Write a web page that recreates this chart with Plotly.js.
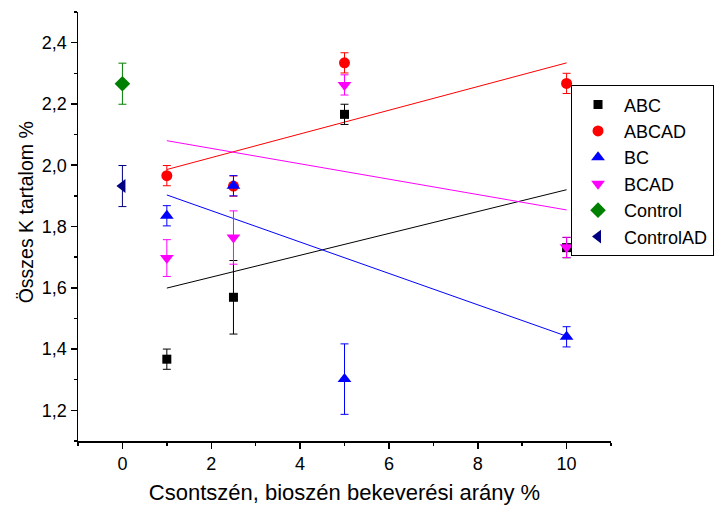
<!DOCTYPE html>
<html>
<head>
<meta charset="utf-8">
<script src="https://cdn.plot.ly/plotly-3.0.1.min.js"></script>
<style>html,body{margin:0;padding:0;background:#fff;}#chart{width:719px;height:506px;}</style>
</head>
<body>
<div id="chart"></div>
<script>
// Data
const seriesNames = ["ABC", "ABCAD", "BC", "BCAD", "Control", "ControlAD"];
const mixX = [1, 2.5, 5, 10];
const controlX = [0];

const abcY = [1.367, 1.569, 2.166, 1.731];
const abcErr = [0.033, 0.12, 0.033, 0.033];
const abcadY = [1.966, 1.932, 2.334, 2.267];
const abcadErr = [0.033, 0.033, 0.033, 0.033];
const bcY = [1.835, 1.933, 1.302, 1.440];
const bcErr = [0.033, 0.033, 0.115, 0.033];
const bcadY = [1.697, 1.764, 2.262, 1.732];
const bcadErr = [0.06, 0.087, 0.033, 0.033];
const controlY = [2.266];
const controlErr = [0.067];
const controlAdY = [1.932];
const controlAdErr = [0.067];

// Linear fit lines (end values)
const fitX = [1, 10];
const abcFit = [1.599, 1.920];
const abcadFit = [1.986, 2.334];
const bcFit = [1.903, 1.442];
const bcadFit = [2.080, 1.854];

const xTitle = "Csontszén, bioszén bekeverési arány %";
const yTitle = "Összes K tartalom %";

const colors = ["#000000", "#ff0000", "#0000ff", "#ff00ff", "#008000", "#000080"];
const symbols = ["square", "circle", "triangle-up", "triangle-down", "diamond", "triangle-left"];
const sizes = [9, 11, 12, 12, 12, 12];

const fits = [abcFit, abcadFit, bcFit, bcadFit];
const traces = [];
fits.forEach((f, i) => {
  traces.push({x: fitX, y: f, mode: "lines", type: "scatter", showlegend: false,
    hoverinfo: "skip", line: {color: colors[i], width: 1}});
});

const pts = [
  [mixX, abcY, abcErr], [mixX, abcadY, abcadErr], [mixX, bcY, bcErr],
  [mixX, bcadY, bcadErr], [controlX, controlY, controlErr], [controlX, controlAdY, controlAdErr]
];
pts.forEach((p, i) => {
  traces.push({
    x: p[0], y: p[1], name: seriesNames[i], mode: "markers", type: "scatter",
    marker: {symbol: symbols[i], size: sizes[i], color: colors[i], line: {width: 0}},
    error_y: {type: "data", array: p[2], visible: true, color: colors[i], thickness: 1, width: 4}
  });
});

const fontFam = "Liberation Sans, Arial, sans-serif";
const layout = {
  width: 719, height: 506,
  margin: {l: 78, r: 108, t: 12, b: 65, autoexpand: false},
  paper_bgcolor: "#fff", plot_bgcolor: "#fff",
  separators: ",.",
  font: {family: fontFam, color: "#000", size: 18},
  xaxis: {
    range: [-1, 11], tick0: 0, dtick: 2, tickformat: "d",
    showgrid: false, zeroline: false, showline: true, linecolor: "#000", linewidth: 1.5,
    ticks: "outside", ticklen: 6, tickwidth: 1.5, tickcolor: "#000",
    minor: {dtick: 1, ticks: "outside", ticklen: 3, tickwidth: 1.5, tickcolor: "#000", showgrid: false},
    tickfont: {size: 18},
    title: {text: xTitle, font: {size: 22}, standoff: 11}
  },
  yaxis: {
    range: [1.1, 2.5], tick0: 0, dtick: 0.2, tickformat: ".1f",
    showgrid: false, zeroline: false, showline: true, linecolor: "#000", linewidth: 1.5,
    ticks: "outside", ticklen: 6, tickwidth: 1.5, tickcolor: "#000",
    minor: {dtick: 0.1, ticks: "outside", ticklen: 3, tickwidth: 1.5, tickcolor: "#000", showgrid: false},
    tickfont: {size: 18}
  },
  annotations: [{
    text: yTitle, xref: "paper", yref: "paper", x: -0.0976, y: 0.533,
    xanchor: "center", yanchor: "middle", textangle: -90, showarrow: false,
    font: {size: 19.5}
  }],
  showlegend: true,
  legend: {
    x: 0.925, y: 0.829, xanchor: "left", yanchor: "top",
    bordercolor: "#000", borderwidth: 1, bgcolor: "#fff",
    font: {size: 18}, itemwidth: 42
  }
};

Plotly.newPlot("chart", traces, layout, {displayModeBar: false, staticPlot: true});
</script>
</body>
</html>
